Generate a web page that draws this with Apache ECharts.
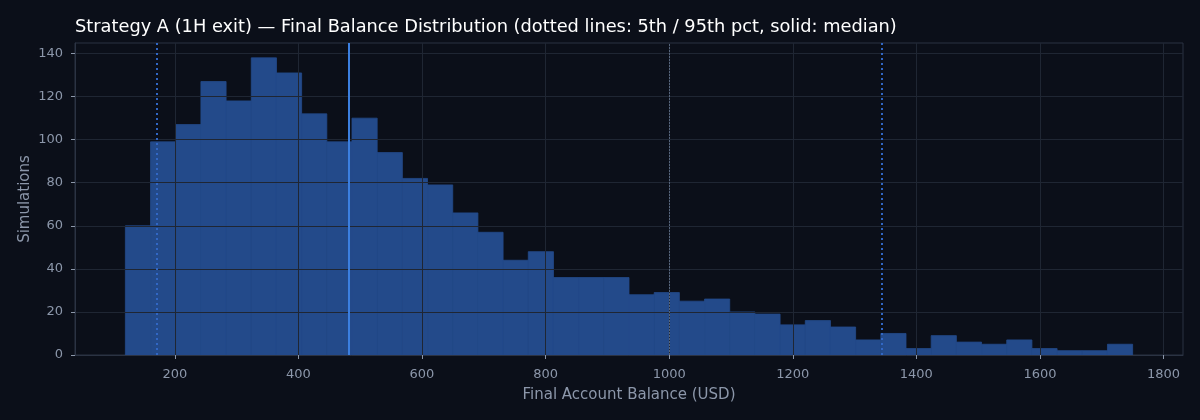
<!DOCTYPE html>
<html>
<head>
<meta charset="utf-8">
<script src="https://cdn.jsdelivr.net/npm/echarts@6/dist/echarts.min.js"></script>
<style>
  html, body { margin: 0; padding: 0; background: #0b0f19; }
  #chart { width: 1200px; height: 420px; }
</style>
</head>
<body>
<div id="chart"></div>
<script>
// Histogram bin lower edges (USD) and the last upper edge
const binEdges = [120, 160.75, 201.5, 242.25, 283, 323.75, 364.5, 405.25, 446, 486.75,
  527.5, 568.25, 609, 649.75, 690.5, 731.25, 772, 812.75, 853.5, 894.25,
  935, 975.75, 1016.5, 1057.25, 1098, 1138.75, 1179.5, 1220.25, 1261, 1301.75,
  1342.5, 1383.25, 1424, 1464.75, 1505.5, 1546.25, 1587, 1627.75, 1668.5, 1709.25, 1750];
// Simulation counts per bin
const counts = [60, 99, 107, 127, 118, 138, 131, 112, 99, 110,
  94, 82, 79, 66, 57, 44, 48, 36, 36, 36,
  28, 29, 25, 26, 20, 19, 14, 16, 13, 7,
  10, 3, 9, 6, 5, 7, 3, 2, 2, 5];
// Reference lines
const pct5 = 170;
const median = 481;
const pct95 = 1344;
const startBalance = 1000;
// Tick labels
const xTicks = [200, 400, 600, 800, 1000, 1200, 1400, 1600, 1800];
const yTicks = [0, 20, 40, 60, 80, 100, 120, 140];

const histData = counts.map((c, i) => [binEdges[i], binEdges[i + 1], c]);

const xMin = 38.5, xMax = 1831.5, yMax = 144.9;
const labelColor = '#8c97aa';
const gridColor = '#1f2633';
const frameColor = '#2b3343';
const barColor = '#234a8a';
const font = '"DejaVu Sans", sans-serif';

const chart = echarts.init(document.getElementById('chart'), null, { renderer: 'canvas' });
chart.setOption({
  backgroundColor: '#0b0f19',
  animation: false,
  textStyle: { fontFamily: font },
  title: {
    text: 'Strategy A (1H exit) — Final Balance Distribution (dotted lines: 5th / 95th pct, solid: median)',
    left: 70, top: 13,
    textStyle: { color: '#ffffff', fontSize: 17.8, fontWeight: 'normal', fontFamily: font }
  },
  grid: {
    left: 75, right: 17, top: 43, bottom: 65,
    show: true, borderColor: frameColor, borderWidth: 1, backgroundColor: 'transparent'
  },
  xAxis: {
    type: 'value', min: xMin, max: xMax, splitNumber: 9, z: 5,
    name: 'Final Account Balance (USD)', nameLocation: 'middle', nameGap: 33, nameMoveOverlap: false,
    nameTextStyle: { color: labelColor, fontSize: 15, fontFamily: font },
    axisLine: { show: true, lineStyle: { color: frameColor } },
    axisTick: { show: true, length: 4, lineStyle: { color: labelColor }, customValues: xTicks },
    axisLabel: { color: labelColor, fontSize: 13, fontFamily: font, margin: 13, customValues: xTicks,
      formatter: v => String(v) },
    splitLine: { show: true, lineStyle: { color: gridColor, width: 1 } }
  },
  yAxis: {
    type: 'value', min: 0, max: yMax, interval: 20, z: 5,
    name: 'Simulations', nameLocation: 'middle', nameGap: 42, nameMoveOverlap: false,
    nameTextStyle: { color: labelColor, fontSize: 15, fontFamily: font },
    axisLine: { show: true, lineStyle: { color: frameColor } },
    axisTick: { show: true, length: 4, lineStyle: { color: labelColor }, customValues: yTicks },
    axisLabel: { color: labelColor, fontSize: 13, fontFamily: font, margin: 12, customValues: yTicks,
      formatter: v => String(v) },
    splitLine: { show: true, lineStyle: { color: gridColor, width: 1 } }
  },
  series: [
    {
      type: 'custom',
      z: 2,
      data: histData,
      encode: { x: [0, 1], y: 2 },
      renderItem: function (params, api) {
        const p0 = api.coord([api.value(0), api.value(2)]);
        const p1 = api.coord([api.value(1), 0]);
        return {
          type: 'rect',
          shape: { x: p0[0], y: p0[1], width: p1[0] - p0[0], height: p1[1] - p0[1] },
          style: { fill: barColor, stroke: barColor, lineWidth: 0.8 }
        };
      }
    },
    {
      type: 'line', data: [], z: 10,
      markLine: {
        silent: true, symbol: 'none', label: { show: false },
        data: [
          { xAxis: startBalance, lineStyle: { color: '#56657c', width: 1, type: [2, 1] } },
          { xAxis: pct5, lineStyle: { color: '#3167c4', width: 2, type: [2, 3] } },
          { xAxis: pct95, lineStyle: { color: '#3167c4', width: 2, type: [2, 3] } },
          { xAxis: median, lineStyle: { color: '#3b7fe0', width: 2, type: 'solid' } }
        ]
      }
    }
  ]
});
</script>
</body>
</html>
